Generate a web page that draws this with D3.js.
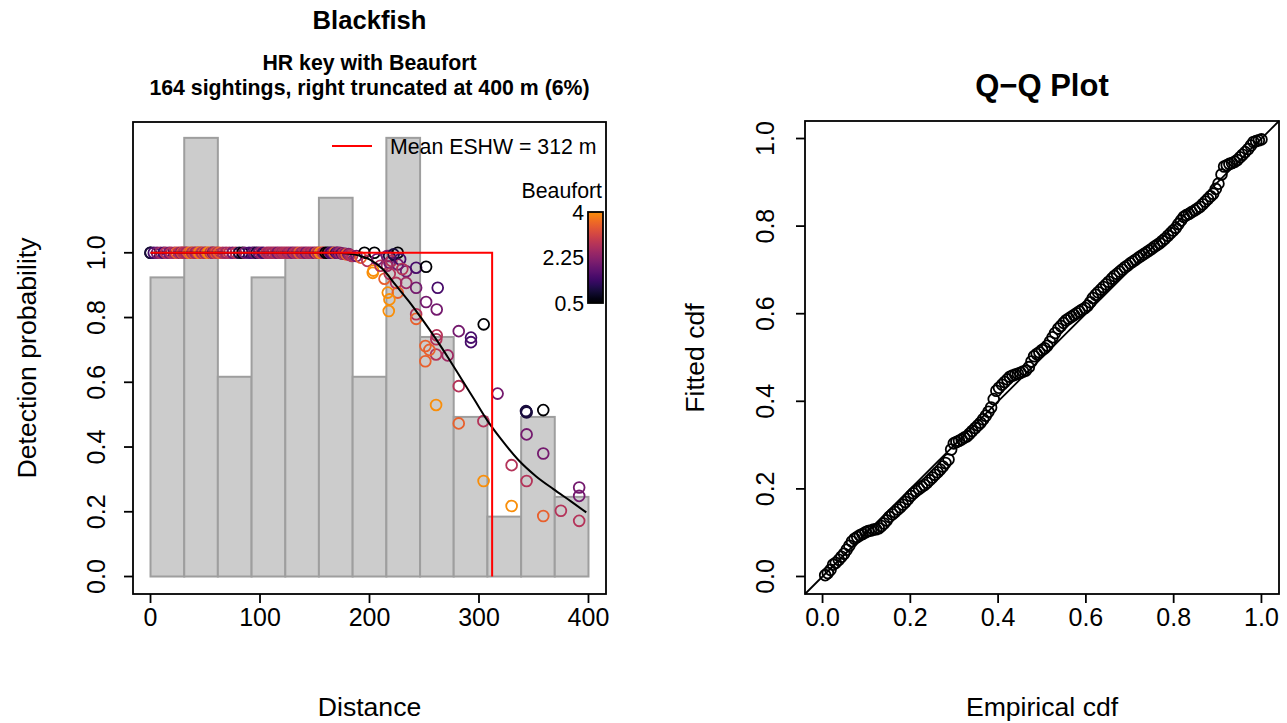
<!DOCTYPE html>
<html>
<head>
<meta charset="utf-8">
<script src="https://cdn.jsdelivr.net/npm/d3@7"></script>
<style>
	body { margin: 0; background: #fff; }
	svg { display: block; font-family: "Liberation Sans", Arial, sans-serif; }
	.box { fill: none; stroke: #000; stroke-width: 1.8; }
	.tick-line { stroke: #000; stroke-width: 1.8; }
	.lab { font-size: 21.3px; fill: #000; }
	.ticklab { font-size: 25px; fill: #000; }
	.axtitle { font-size: 26.6px; fill: #000; }
</style>
</head>
<body>
<svg width="1287" height="723"></svg>
<script>
// histogram of perpendicular distances (bar heights as drawn, scaled to g(x))
var binEdges = [0, 30.8, 61.5, 92.3, 123.1, 153.8, 184.6, 215.4, 246.2, 276.9, 307.7, 338.5, 369.2, 400];
var binHeights = [0.924, 1.355, 0.617, 0.924, 0.986, 1.170, 0.617, 1.355, 0.740, 0.493, 0.185, 0.493, 0.246];

// fitted detection function
var curveDist = [0, 170, 180, 190, 200, 212, 224, 236, 248, 260, 272, 284, 296, 308, 320, 336, 352, 368, 384, 398];
var curveProb = [1, 1, 0.998, 0.992, 0.98, 0.95, 0.9, 0.85, 0.795, 0.737, 0.675, 0.61, 0.545, 0.48, 0.425, 0.36, 0.31, 0.27, 0.232, 0.198];

// individual sightings: distance, fitted detection probability, Beaufort
var sightDist = [
	0, 0, 3, 6, 9, 12, 14, 17, 19, 22, 24, 26, 28, 29, 30,
	32, 33, 35, 37, 38, 40, 41, 43, 44, 45, 46, 47, 49, 50, 52, 53, 55, 56, 57, 58, 60, 61,
	63, 66, 69, 72, 75, 78, 81, 84, 86, 90,
	93, 95, 97, 99, 101, 103, 106, 108, 110, 112, 114, 116, 118, 120, 122,
	124, 126, 128, 130, 132, 134, 136, 138, 140, 142, 144, 146, 148, 150, 152, 153,
	155, 157, 158, 160, 162, 164, 165, 167, 168, 170, 171, 173, 175, 176, 178, 179, 181, 182, 184,
	188, 192, 195.4, 198, 203, 203.5, 204.5, 207, 210, 213.7,
	218, 225.8, 218.2, 225.8, 233.5, 242.6, 224.3, 233.5, 242.6, 216.7, 225.8, 218.2, 217.6, 242.6, 242.6, 218.5, 216, 220, 222, 228, 216, 230,
	251.7, 251.7, 262.3, 261.4, 261.4, 261, 251.1, 260.8, 251, 271.4, 260.8, 254.7,
	281.5, 292.7, 292.7, 304.3, 281.5, 281.5, 304, 304.2,
	317, 329.8, 329.8,
	342.9, 343.5, 358.7, 343.5, 358.7, 343.5, 358.7, 343.2,
	374.8, 391.5, 391.5, 391.5
];
var sightProb = [
	1, 1, 1, 1, 1, 1, 1, 1, 1, 1, 1, 1, 1, 1, 1,
	1, 1, 1, 1, 1, 1, 1, 1, 1, 1, 1, 1, 1, 1, 1, 1, 1, 1, 1, 1, 1, 1,
	1, 1, 1, 1, 1, 1, 1, 1, 1, 1,
	1, 1, 1, 1, 1, 1, 1, 1, 1, 1, 1, 1, 1, 1, 1,
	1, 1, 1, 1, 1, 1, 1, 1, 1, 1, 1, 1, 1, 1, 1, 1,
	1, 1, 1, 1, 1, 1, 1, 1, 1, 1, 1, 1, 0.998, 0.997, 0.997, 0.995, 0.996, 0.994, 0.99,
	0.99, 0.985, 1, 0.975, 0.938, 0.945, 1, 0.98, 0.96, 0.92,
	0.99, 1, 0.969, 0.964, 0.943, 0.954, 0.907, 0.907, 0.892, 0.877, 0.877, 0.856, 0.82, 0.81, 0.796, 0.935, 0.99, 0.975, 0.995, 0.98, 0.96, 0.95,
	0.957, 0.848, 0.892, 0.825, 0.745, 0.733, 0.712, 0.686, 0.665, 0.683, 0.53, 0.70,
	0.758, 0.738, 0.724, 0.779, 0.588, 0.473, 0.48, 0.295,
	0.565, 0.344, 0.218,
	0.511, 0.507, 0.514, 0.439, 0.38, 0.295, 0.187, 0.509,
	0.203, 0.275, 0.249, 0.172
];
var sightBeaufort = [
	0.5, 1, 1.5, 2, 2.5, 1.5, 2.75, 2, 2.75, 2.5, 3.5, 2.75, 2, 3.5, 2.75,
	2.75, 2.5, 3.5, 4, 2.75, 3.5, 2.5, 2.75, 3.5, 4, 3.5, 2.75, 3.5, 2.5, 3.5, 4, 2.75, 3.5, 2, 2.75, 3.5, 2.75,
	3.5, 2.75, 2.5, 2.75, 2, 2.75, 1, 0.5, 2, 1.5,
	1.5, 2, 1, 2, 2.5, 1.5, 2.75, 2.5, 2.75, 2.5, 2.75, 2, 2.75, 2.5, 2.75,
	2.75, 2.5, 2.75, 2, 2.75, 2.5, 3.5, 2.5, 2.75, 2, 2.75, 2.5, 2.75, 2, 3.5, 2.75,
	4, 3.5, 2.75, 0.5, 0.5, 2, 1.5, 2, 3.5, 1.5, 2, 2.5, 1.5, 2.75, 2, 3.5, 2, 2.5, 2.75,
	2, 3.5, 0.5, 2.75, 4, 4, 0.5, 2, 2.75, 3.5,
	1, 0.5, 2, 2, 2, 1.5, 2.75, 2.5, 2, 4, 3.5, 4, 4, 2.75, 3.5, 2.75, 2, 2.75, 1, 1.5, 2.5, 2.75,
	0.5, 2, 1.5, 2, 2.75, 2.75, 3.5, 2.75, 3.5, 2.5, 4, 3.5,
	2, 1.5, 1.5, 0.5, 2.75, 3.5, 2.75, 4,
	2, 2.75, 4,
	1, 1, 0.5, 2, 2, 2.75, 3.5, 1,
	2.75, 2, 2, 2.75
];

var eshw = 312;
var beaufortTicks = [0.5, 2.25, 4];
var distTicks = [0, 100, 200, 300, 400];
var probTicks = [0, 0.2, 0.4, 0.6, 0.8, 1.0];
var cdfTicks = [0, 0.2, 0.4, 0.6, 0.8, 1.0];

// Q-Q plot: empirical cdf vs fitted cdf
var qqEmpirical = [
	0.006, 0.012, 0.018, 0.024, 0.030, 0.037, 0.043, 0.049, 0.055, 0.061, 0.067, 0.073, 0.079, 0.085, 0.091, 0.098,
	0.104, 0.110, 0.116, 0.122, 0.128, 0.134, 0.140, 0.146, 0.152, 0.159, 0.165, 0.171, 0.177, 0.183, 0.189, 0.195,
	0.201, 0.207, 0.213, 0.220, 0.226, 0.232, 0.238, 0.244, 0.250, 0.256, 0.262, 0.268, 0.274, 0.280, 0.287, 0.293,
	0.299, 0.305, 0.311, 0.317, 0.323, 0.329, 0.335, 0.341, 0.348, 0.354, 0.360, 0.366, 0.372, 0.378, 0.384, 0.390,
	0.396, 0.402, 0.409, 0.415, 0.421, 0.427, 0.433, 0.439, 0.445, 0.451, 0.457, 0.463, 0.470, 0.476, 0.482, 0.488,
	0.494, 0.500, 0.506, 0.512, 0.518, 0.524, 0.530, 0.537, 0.543, 0.549, 0.555, 0.561, 0.567, 0.573, 0.579, 0.585,
	0.591, 0.598, 0.604, 0.610, 0.616, 0.622, 0.628, 0.634, 0.640, 0.646, 0.652, 0.659, 0.665, 0.671, 0.677, 0.683,
	0.689, 0.695, 0.701, 0.707, 0.713, 0.720, 0.726, 0.732, 0.738, 0.744, 0.750, 0.756, 0.762, 0.768, 0.774, 0.780,
	0.787, 0.793, 0.799, 0.805, 0.811, 0.817, 0.823, 0.829, 0.835, 0.841, 0.848, 0.854, 0.860, 0.866, 0.872, 0.878,
	0.884, 0.890, 0.896, 0.902, 0.909, 0.915, 0.921, 0.927, 0.933, 0.939, 0.945, 0.951, 0.957, 0.963, 0.970, 0.976,
	0.982, 0.988, 0.994, 1.000
];
var qqFitted = [
	0.003, 0.008, 0.015, 0.027, 0.031, 0.038, 0.045, 0.052, 0.061, 0.070, 0.080, 0.086, 0.090, 0.094, 0.097, 0.101,
	0.104, 0.105, 0.107, 0.108, 0.110, 0.115, 0.121, 0.128, 0.136, 0.142, 0.147, 0.153, 0.158, 0.164, 0.170, 0.177,
	0.184, 0.190, 0.195, 0.200, 0.205, 0.209, 0.214, 0.220, 0.226, 0.232, 0.238, 0.244, 0.251, 0.259, 0.267, 0.290,
	0.304, 0.307, 0.310, 0.313, 0.317, 0.320, 0.326, 0.332, 0.339, 0.345, 0.351, 0.359, 0.367, 0.376, 0.386, 0.405,
	0.424, 0.431, 0.438, 0.444, 0.450, 0.456, 0.459, 0.461, 0.463, 0.465, 0.468, 0.470, 0.478, 0.491, 0.503, 0.508,
	0.512, 0.517, 0.521, 0.527, 0.536, 0.546, 0.556, 0.566, 0.572, 0.579, 0.585, 0.589, 0.593, 0.597, 0.601, 0.605,
	0.609, 0.613, 0.618, 0.626, 0.636, 0.643, 0.649, 0.655, 0.661, 0.667, 0.673, 0.680, 0.686, 0.691, 0.696, 0.701,
	0.706, 0.710, 0.715, 0.719, 0.723, 0.728, 0.732, 0.736, 0.740, 0.744, 0.748, 0.753, 0.757, 0.761, 0.766, 0.771,
	0.778, 0.784, 0.790, 0.796, 0.805, 0.813, 0.821, 0.825, 0.828, 0.832, 0.836, 0.840, 0.844, 0.850, 0.856, 0.862,
	0.868, 0.874, 0.885, 0.897, 0.918, 0.936, 0.939, 0.942, 0.944, 0.947, 0.951, 0.957, 0.963, 0.969, 0.976, 0.984,
	0.992, 0.994, 0.996, 0.998
];

var svg = d3.select("svg");
svg.append("rect").attr("width", 1287).attr("height", 723).attr("fill", "#fff");

var palette = function(t) { return d3.interpolateInferno(t * 0.75); };
var colour = d3.scaleSequential(palette).domain([0.5, 4]);

// ---------- left panel: detection function ----------
var x = d3.scaleLinear().domain([-16, 416]).range([133, 606]);
var y = d3.scaleLinear().domain([-0.054, 1.404]).range([594, 122]);

var left = svg.append("g").attr("class", "detfn");

left.selectAll(".bar")
	.data(binHeights)
	.enter().append("rect")
	.attr("class", "bar")
	.attr("x", function(d, i) { return x(binEdges[i]); })
	.attr("width", function(d, i) { return x(binEdges[i + 1]) - x(binEdges[i]); })
	.attr("y", function(d) { return y(d); })
	.attr("height", function(d) { return y(0) - y(d); })
	.attr("fill", "#cccccc")
	.attr("stroke", "#9e9e9e")
	.attr("stroke-width", 2);

var sightings = sightDist.map(function(d, i) {
	return { dist: d, p: sightProb[i], bf: sightBeaufort[i] };
});

left.selectAll(".sighting")
	.data(sightings)
	.enter().append("circle")
	.attr("class", "sighting")
	.attr("cx", function(d) { return x(d.dist); })
	.attr("cy", function(d) { return y(d.p); })
	.attr("r", 5.4)
	.attr("fill", "none")
	.attr("stroke", function(d) { return colour(d.bf); })
	.attr("stroke-width", 1.8);

var detLine = d3.line()
	.x(function(d) { return x(d[0]); })
	.y(function(d) { return y(d[1]); })
	.curve(d3.curveMonotoneX);

left.append("path")
	.datum(curveDist.map(function(d, i) { return [d, curveProb[i]]; }))
	.attr("d", detLine)
	.attr("fill", "none")
	.attr("stroke", "#000")
	.attr("stroke-width", 2);

// effective strip half-width box
left.append("path")
	.attr("d", d3.line()([[x(0), y(1)], [x(eshw), y(1)], [x(eshw), y(0)]]))
	.attr("fill", "none")
	.attr("stroke", "#ff0000")
	.attr("stroke-width", 2);

left.append("rect").attr("class", "box")
	.attr("x", 133).attr("y", 122).attr("width", 473).attr("height", 472);

// x axis
left.selectAll(".xtick")
	.data(distTicks)
	.enter().append("line")
	.attr("class", "tick-line")
	.attr("x1", function(d) { return x(d); }).attr("x2", function(d) { return x(d); })
	.attr("y1", 594).attr("y2", 603);
left.selectAll(".xlab")
	.data(distTicks)
	.enter().append("text")
	.attr("class", "ticklab")
	.attr("x", function(d) { return x(d); })
	.attr("y", 626)
	.attr("text-anchor", "middle")
	.text(function(d) { return d; });

// y axis
left.selectAll(".ytick")
	.data(probTicks)
	.enter().append("line")
	.attr("class", "tick-line")
	.attr("x1", 124).attr("x2", 133)
	.attr("y1", function(d) { return y(d); }).attr("y2", function(d) { return y(d); });
left.selectAll(".ylab")
	.data(probTicks)
	.enter().append("text")
	.attr("class", "ticklab")
	.attr("transform", function(d) { return "translate(105," + y(d) + ") rotate(-90)"; })
	.attr("text-anchor", "middle")
	.text(function(d) { return d3.format(".1f")(d); });

left.append("text").attr("class", "axtitle")
	.attr("x", 369.5).attr("y", 716).attr("text-anchor", "middle").text("Distance");
left.append("text").attr("class", "axtitle")
	.attr("transform", "translate(36,358) rotate(-90)")
	.attr("text-anchor", "middle").text("Detection probability");

// titles
left.append("text")
	.attr("x", 369.5).attr("y", 29).attr("text-anchor", "middle")
	.style("font-size", "25.6px").style("font-weight", "bold")
	.text("Blackfish");
left.append("text").attr("class", "lab")
	.attr("x", 369.5).attr("y", 70).attr("text-anchor", "middle")
	.style("font-weight", "bold").text("HR key with Beaufort");
left.append("text").attr("class", "lab")
	.attr("x", 369.5).attr("y", 95).attr("text-anchor", "middle")
	.style("font-weight", "bold").text("164 sightings, right truncated at 400 m (6%)");

// legend
left.append("line")
	.attr("x1", 332).attr("x2", 372).attr("y1", 146).attr("y2", 146)
	.attr("stroke", "#ff0000").attr("stroke-width", 2);
left.append("text").attr("class", "lab")
	.attr("x", 390).attr("y", 153.5).text("Mean ESHW = " + eshw + " m");

// colour bar for Beaufort
var defs = svg.append("defs");
var grad = defs.append("linearGradient").attr("id", "bfGrad")
	.attr("x1", 0).attr("y1", 1).attr("x2", 0).attr("y2", 0);
d3.range(0, 1.0001, 0.05).forEach(function(t) {
	grad.append("stop").attr("offset", t).attr("stop-color", palette(t));
});
var cb = d3.scaleLinear().domain([0.5, 4]).range([303, 212]);
left.append("rect")
	.attr("x", 588).attr("y", cb(4)).attr("width", 15).attr("height", cb(0.5) - cb(4))
	.attr("fill", "url(#bfGrad)").attr("stroke", "#000").attr("stroke-width", 1.8);
left.selectAll(".cblab")
	.data(beaufortTicks)
	.enter().append("text")
	.attr("class", "lab")
	.attr("x", 584)
	.attr("y", function(d) { return cb(d) + 7.5; })
	.attr("text-anchor", "end")
	.text(function(d) { return d; });
left.append("text").attr("class", "lab")
	.attr("x", 602).attr("y", 197.5).attr("text-anchor", "end").text("Beaufort");

// ---------- right panel: Q-Q plot ----------
var qx = d3.scaleLinear().domain([-0.04, 1.04]).range([805, 1279]);
var qy = d3.scaleLinear().domain([-0.04, 1.04]).range([594, 121]);
var right = svg.append("g").attr("class", "qq");

right.selectAll(".qqpt")
	.data(qqEmpirical)
	.enter().append("circle")
	.attr("class", "qqpt")
	.attr("cx", function(d) { return qx(d); })
	.attr("cy", function(d, i) { return qy(qqFitted[i]); })
	.attr("r", 5.4)
	.attr("fill", "none")
	.attr("stroke", "#000")
	.attr("stroke-width", 1.8);

right.append("line")
	.attr("x1", qx(-0.04)).attr("y1", qy(-0.04))
	.attr("x2", qx(1.04)).attr("y2", qy(1.04))
	.attr("stroke", "#000").attr("stroke-width", 1.8);

right.append("rect").attr("class", "box")
	.attr("x", 805).attr("y", 121).attr("width", 474).attr("height", 473);

right.selectAll(".xtick")
	.data(cdfTicks)
	.enter().append("line")
	.attr("class", "tick-line")
	.attr("x1", function(d) { return qx(d); }).attr("x2", function(d) { return qx(d); })
	.attr("y1", 594).attr("y2", 603);
right.selectAll(".xlab")
	.data(cdfTicks)
	.enter().append("text")
	.attr("class", "ticklab")
	.attr("x", function(d) { return qx(d); })
	.attr("y", 626)
	.attr("text-anchor", "middle")
	.text(function(d) { return d3.format(".1f")(d); });

right.selectAll(".ytick")
	.data(cdfTicks)
	.enter().append("line")
	.attr("class", "tick-line")
	.attr("x1", 796).attr("x2", 805)
	.attr("y1", function(d) { return qy(d); }).attr("y2", function(d) { return qy(d); });
right.selectAll(".ylab")
	.data(cdfTicks)
	.enter().append("text")
	.attr("class", "ticklab")
	.attr("transform", function(d) { return "translate(774," + qy(d) + ") rotate(-90)"; })
	.attr("text-anchor", "middle")
	.text(function(d) { return d3.format(".1f")(d); });

right.append("text").attr("class", "axtitle")
	.attr("x", 1042).attr("y", 716).attr("text-anchor", "middle").text("Empirical cdf");
right.append("text").attr("class", "axtitle")
	.attr("transform", "translate(704,358) rotate(-90)")
	.attr("text-anchor", "middle").text("Fitted cdf");

right.append("text")
	.attr("x", 1042).attr("y", 96).attr("text-anchor", "middle")
	.style("font-size", "31px").style("font-weight", "bold")
	.text("Q\u2212Q Plot");
</script>
</body>
</html>
